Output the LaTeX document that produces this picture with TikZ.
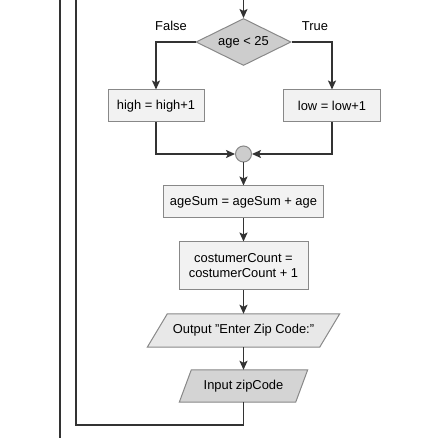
\documentclass[tikz,border=0pt]{standalone}
\usepackage{fontspec}
\setmainfont{Liberation Sans}
\usetikzlibrary{arrows.meta,shapes.geometric,backgrounds}
\definecolor{lineGray}{HTML}{333333}
\definecolor{borderGray}{HTML}{888888}
\definecolor{boxFill}{HTML}{F2F2F2}
\definecolor{decisionFill}{HTML}{CDCDCD}
\definecolor{outputFill}{HTML}{E8E8E8}
\definecolor{inputFill}{HTML}{D4D4D4}
\newcommand{\pageWidth}{448}
\newcommand{\pageHeight}{438}
\newcommand{\mainX}{243.5}
\newcommand{\loopX}{76}
\newcommand{\outerX}{60}
\newcommand{\loopY}{425}
\newcommand{\flowFont}{\fontsize{12.9pt}{15pt}\selectfont}

\begin{document}
\begin{tikzpicture}[x=1pt, y=-1pt,
    every node/.append style={font=\flowFont},
    flow/.style={draw=lineGray, line width=1.8pt, -{Stealth[length=9pt,width=8pt,inset=2pt]}},
    wire/.style={draw=lineGray, line width=1.8pt},
    process/.style={draw=borderGray, fill=boxFill, line width=1pt, minimum height=32pt, inner sep=0pt},
    decision/.style={diamond, aspect=2, draw=borderGray, fill=decisionFill, line width=1pt,
      minimum width=95pt, minimum height=47pt, inner sep=0pt},
    ioText/.style={inner sep=0pt},
    ioShape/.style={draw=borderGray, line width=1pt, line join=miter},
    merge/.style={circle, draw=borderGray, fill=decisionFill, line width=1pt, minimum size=16pt, inner sep=0pt},
    branchText/.style={inner sep=0pt}]
      \useasboundingbox (0,0) rectangle (\pageWidth,\pageHeight);
      \coordinate (entry) at (\mainX,0);
      \node[decision] (ageCheck) at (\mainX,42) {age < 25};
      \node[branchText] (falseText) at (171,26) {False};
      \node[branchText] (trueText) at (315,26) {True};
      \node[process, minimum width=96pt] (highInc) at (156,106) {high = high+1};
      \node[process, minimum width=97pt] (lowInc) at (332,106) {low = low+1};
      \node[merge] (join) at (\mainX,154) {};
      \node[process, minimum width=160pt] (ageSumBox) at (\mainX,202) {ageSum = ageSum + age};
      \node[process, minimum width=129pt, minimum height=48pt, align=center] (countBox) at (\mainX,266)
        {costumerCount =\\costumerCount + 1};
      \node[ioText, minimum width=172pt, minimum height=33pt] (zipPrompt) at (\mainX,330.5)
        {Output "Enter Zip Code:"};
      \node[ioText, minimum width=116pt, minimum height=32pt] (zipInput) at (\mainX,386)
        {Input zipCode};
      \coordinate (loopCorner) at (\loopX,\loopY);
      \coordinate (loopTop) at (\loopX,0);
      \coordinate (outerTop) at (\outerX,0);
      \coordinate (outerBottom) at (\outerX,\pageHeight);

      % parallelograms behind the io texts
      \begin{scope}[on background layer]
      \draw[ioShape, fill=outputFill] ([xshift=-10pt]zipPrompt.south west) -- ([xshift=10pt]zipPrompt.north west)
        -- ([xshift=10pt]zipPrompt.north east) -- ([xshift=-10pt]zipPrompt.south east) -- cycle;
      \draw[ioShape, fill=inputFill] ([xshift=-6pt]zipInput.south west) -- ([xshift=6pt]zipInput.north west)
        -- ([xshift=6pt]zipInput.north east) -- ([xshift=-6pt]zipInput.south east) -- cycle;
      \end{scope}

      % branches
      \draw[flow] (entry) -- (ageCheck.north);
      \draw[flow] (ageCheck.west) -| (highInc.north);
      \draw[flow] (ageCheck.east) -| (lowInc.north);
      \draw[flow] (highInc.south) |- (join.west);
      \draw[flow] (lowInc.south) |- (join.east);

      \draw[flow] (join) -- (ageSumBox);
      \draw[flow] (ageSumBox) -- (countBox);
      \draw[flow] (countBox) -- (zipPrompt);
      \draw[flow] (zipPrompt) -- (zipInput);

      % back to the top of the loop
      \draw[wire] (zipInput.south) |- (loopCorner) -- (loopTop);
      \draw[wire] (outerTop) -- (outerBottom);
\end{tikzpicture}
\end{document}
